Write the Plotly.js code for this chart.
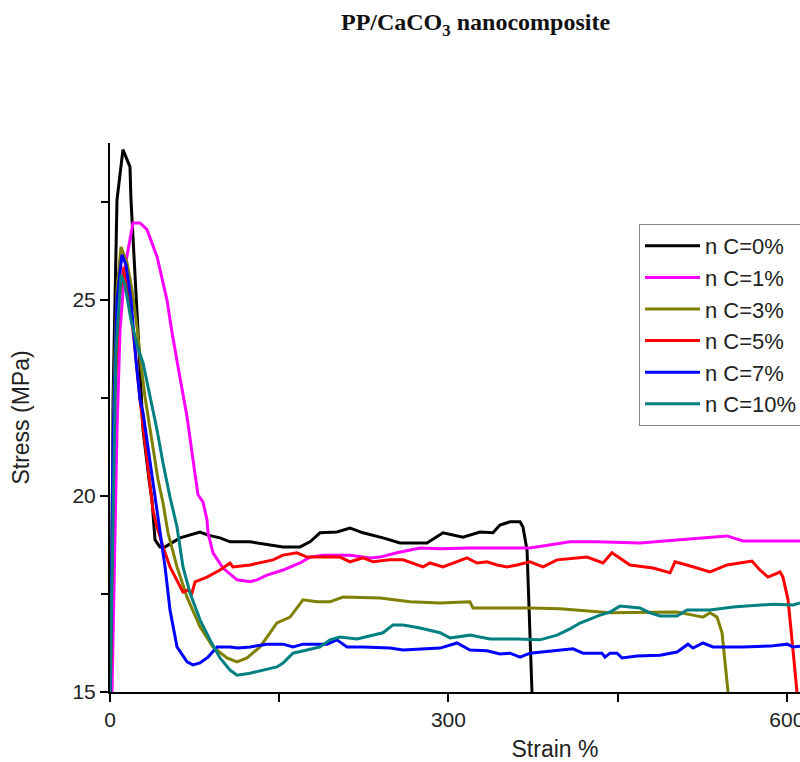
<!DOCTYPE html>
<html>
<head>
<meta charset="utf-8">
<script src="https://cdn.plot.ly/plotly-3.0.1.min.js"></script>
<style>
html, body { margin: 0; padding: 0; background: #fff; overflow: hidden; }
#wrap { width: 800px; height: 762px; overflow: hidden; position: relative; }
#chart { width: 1000px; height: 762px; }
</style>
</head>
<body>
<div id="wrap"><div id="chart"></div></div>
<script>
// Series names
const seriesNames = ["n C=0%", "n C=1%", "n C=3%", "n C=5%", "n C=7%", "n C=10%"];

// n C=0%
const strain0 = [1, 2.7, 6.2, 11.5, 17.7, 18.6, 24.8, 29.3, 34.6, 37.2, 39.9, 44.3, 48.8, 62.1, 79.8, 86.9, 97.5, 106.4, 124.1, 141.8, 153.4, 168.4, 177.3, 186.2, 201.2, 212.8, 224.3, 242.0, 257.1, 266.0, 281.0, 295.2, 312.9, 328.0, 339.5, 345.7, 354.6, 363.5, 366.1, 369.7, 372.3, 374.1];
const stress0 = [15, 22.45, 27.55, 28.83, 28.39, 27.55, 24.23, 21.68, 20.41, 19.90, 18.88, 18.70, 18.70, 18.93, 19.08, 19.0, 18.93, 18.83, 18.83, 18.75, 18.70, 18.70, 18.83, 19.06, 19.08, 19.18, 19.06, 18.93, 18.80, 18.80, 18.80, 19.06, 18.95, 19.08, 19.06, 19.26, 19.34, 19.34, 19.21, 18.62, 16.51, 15.0];

// n C=1%
const strain1 = [1.8, 6.2, 8.9, 13.3, 20.4, 26.6, 32.8, 41.7, 50.5, 55.0, 62.1, 68.3, 73.6, 78.0, 82.4, 86.0, 86.9, 91.3, 100.2, 112.6, 124.1, 130.3, 139.2, 153.4, 168.4, 177.3, 188.8, 212.8, 230.5, 239.4, 254.4, 274.8, 292.6, 319.1, 372.3, 390.1, 407.8, 431.7, 469.9, 505.3, 547.0, 561.2, 611.7];
const stress1 = [15.0, 21.68, 24.23, 25.84, 26.96, 26.96, 26.79, 26.10, 25.0, 24.16, 23.01, 22.02, 20.92, 20.03, 19.85, 19.39, 19.06, 18.55, 18.16, 17.86, 17.81, 17.86, 17.98, 18.11, 18.29, 18.44, 18.49, 18.49, 18.42, 18.44, 18.55, 18.67, 18.65, 18.67, 18.67, 18.75, 18.83, 18.83, 18.80, 18.88, 18.98, 18.85, 18.85];

// n C=3%
const strain3 = [0.5, 2.7, 6.2, 9.8, 15.1, 19.5, 23.9, 26.6, 31.0, 35.5, 42.6, 47.0, 51.4, 59.4, 68.3, 79.8, 91.3, 103.7, 112.6, 121.5, 133.0, 139.2, 148.0, 159.6, 171.1, 183.5, 195.0, 206.6, 239.4, 266.0, 292.6, 319.1, 321.8, 372.3, 398.9, 443.3, 502.7, 516.8, 525.7, 531.9, 538.1, 542.6, 545.2, 547.9];
const stress3 = [15, 21.94, 25.26, 26.35, 25.94, 25.26, 24.31, 23.55, 22.53, 21.68, 20.41, 19.82, 19.06, 18.19, 17.42, 16.66, 16.15, 15.87, 15.77, 15.87, 16.15, 16.40, 16.76, 16.91, 17.35, 17.30, 17.30, 17.42, 17.40, 17.30, 17.27, 17.30, 17.14, 17.14, 17.12, 17.02, 17.04, 16.96, 16.91, 17.02, 16.91, 16.51, 15.82, 15.0];

// n C=5%
const strain5 = [0.3, 3.5, 8.0, 12.4, 16.0, 21.3, 26.6, 32.8, 38.1, 41.7, 47.0, 53.2, 59.4, 64.7, 69.1, 72.7, 75.4, 86.0, 97.5, 106.4, 109.0, 124.1, 144.5, 153.4, 165.8, 174.6, 203.9, 212.8, 224.3, 233.2, 248.2, 259.8, 277.5, 283.7, 295.2, 307.6, 316.5, 325.4, 334.2, 343.1, 352.0, 360.8, 372.3, 383.9, 396.3, 422.9, 437.1, 445.0, 461.0, 481.4, 496.5, 500.9, 511.5, 531.9, 547.0, 569.1, 576.2, 583.3, 594.0, 596.6, 601.1, 605.5, 609.0];
const stress5 = [15, 21.94, 25.0, 25.84, 25.26, 23.98, 22.45, 20.92, 19.64, 19.21, 18.70, 18.19, 17.86, 17.55, 17.60, 17.53, 17.81, 17.93, 18.11, 18.29, 18.19, 18.24, 18.37, 18.49, 18.55, 18.44, 18.44, 18.32, 18.42, 18.32, 18.37, 18.37, 18.19, 18.29, 18.19, 18.32, 18.42, 18.29, 18.32, 18.24, 18.19, 18.24, 18.32, 18.19, 18.37, 18.44, 18.29, 18.55, 18.24, 18.16, 18.04, 18.32, 18.24, 18.06, 18.24, 18.34, 18.11, 17.93, 18.06, 17.93, 17.35, 16.07, 15.0];

// n C=7%
const strain7 = [0.3, 2.7, 6.2, 10.6, 14.2, 18.6, 23.0, 26.6, 29.3, 33.7, 38.1, 42.6, 48.8, 53.2, 59.4, 68.3, 73.6, 79.8, 86.9, 94.9, 106.4, 113.5, 124.1, 139.2, 153.4, 162.2, 171.1, 192.4, 201.2, 210.1, 224.3, 248.2, 259.8, 292.6, 307.6, 319.1, 334.2, 345.7, 354.6, 363.5, 372.3, 410.5, 419.3, 436.2, 438.8, 443.3, 449.5, 453.9, 467.2, 487.6, 502.7, 512.4, 516.8, 525.7, 534.6, 561.2, 585.1, 600.2, 605.5, 611.7];
const stress7 = [15, 21.43, 25.0, 26.15, 25.89, 25.0, 23.47, 22.45, 22.12, 21.25, 20.41, 19.39, 18.19, 17.09, 16.15, 15.77, 15.69, 15.74, 15.89, 16.15, 16.15, 16.12, 16.15, 16.22, 16.22, 16.15, 16.22, 16.22, 16.33, 16.15, 16.15, 16.12, 16.07, 16.12, 16.25, 16.07, 16.05, 15.97, 15.99, 15.89, 15.99, 16.10, 15.99, 15.99, 15.89, 15.99, 15.99, 15.87, 15.92, 15.94, 16.02, 16.22, 16.12, 16.25, 16.15, 16.15, 16.17, 16.22, 16.15, 16.17];

// n C=10%
const strain10 = [0, 1.8, 5.3, 9.8, 13.3, 18.6, 23.9, 29.3, 35.5, 41.7, 47.0, 53.2, 59.4, 64.7, 70.9, 79.8, 88.7, 97.5, 106.4, 112.6, 124.1, 135.6, 148.0, 153.4, 162.2, 174.6, 186.2, 195.0, 203.9, 219.0, 233.2, 242.0, 250.9, 259.8, 274.8, 292.6, 301.4, 319.1, 336.9, 360.8, 381.2, 396.3, 407.8, 416.7, 434.4, 443.3, 452.1, 469.9, 478.7, 487.6, 502.7, 511.5, 531.9, 552.3, 587.8, 605.5, 611.7];
const stress10 = [15, 18.37, 23.72, 25.64, 25.38, 24.49, 23.85, 23.39, 22.53, 21.68, 20.84, 19.97, 19.21, 18.19, 17.53, 16.84, 16.33, 15.87, 15.56, 15.43, 15.48, 15.56, 15.64, 15.74, 15.99, 16.07, 16.15, 16.33, 16.40, 16.35, 16.45, 16.51, 16.71, 16.71, 16.63, 16.51, 16.38, 16.45, 16.35, 16.35, 16.33, 16.45, 16.61, 16.76, 16.96, 17.04, 17.19, 17.14, 17.02, 16.94, 16.94, 17.09, 17.09, 17.17, 17.24, 17.22, 17.27];

const colors = ["#000000", "#ff00ff", "#808000", "#ff0000", "#0000ff", "#008080"];

// Axis ticks
const xTickVals = [0, 300, 600];
const xTickText = ["0", "300", "600"];
const yTickVals = [15, 20, 25];
const yTickText = ["15", "20", "25"];

const xs = [strain0, strain1, strain3, strain5, strain7, strain10];
const ys = [stress0, stress1, stress3, stress5, stress7, stress10];

const traces = seriesNames.map((name, i) => ({
  type: "scatter",
  mode: "lines",
  name: name,
  x: xs[i],
  y: ys[i],
  line: { color: colors[i], width: 3 },
  legendgroup: "g" + i
}));

const layout = {
  width: 1000,
  height: 762,
  margin: { l: 110, r: 0, t: 143, b: 70 },
  paper_bgcolor: "#ffffff",
  plot_bgcolor: "#ffffff",
  showlegend: true,
  title: {
    text: "<b>PP/CaCO<sub>3</sub> nanocomposite</b>",
    font: { family: "Liberation Serif, Times New Roman, serif", size: 24, color: "#111111" },
    x: 0.4755, xanchor: "center", xref: "container",
    y: 0.971, yanchor: "middle", yref: "container"
  },
  xaxis: {
    range: [0, 789],
    showgrid: false,
    zeroline: false,
    showline: true,
    linecolor: "#000000",
    linewidth: 2,
    ticks: "outside",
    ticklen: 8,
    tickwidth: 2,
    tickcolor: "#000000",
    tickvals: xTickVals,
    ticktext: xTickText,
    tickfont: { family: "Liberation Sans, Arial, sans-serif", size: 21, color: "#222222" },
    minor: { tickvals: [150, 450, 750], ticks: "outside", ticklen: 8, tickwidth: 2, tickcolor: "#000000" },
    title: {
      text: "Strain %",
      font: { family: "Liberation Sans, Arial, sans-serif", size: 23, color: "#222222" },
      standoff: 12
    }
  },
  yaxis: {
    range: [15, 29],
    showgrid: false,
    zeroline: false,
    showline: true,
    linecolor: "#000000",
    linewidth: 2,
    ticks: "outside",
    ticklen: 8,
    tickwidth: 2,
    tickcolor: "#000000",
    tickvals: yTickVals,
    ticktext: yTickText,
    tickfont: { family: "Liberation Sans, Arial, sans-serif", size: 21, color: "#222222" },
    minor: { tickvals: [17.5, 22.5, 27.5], ticks: "outside", ticklen: 7, tickwidth: 2, tickcolor: "#000000" },
    title: {
      text: "Stress (MPa)",
      font: { family: "Liberation Sans, Arial, sans-serif", size: 23, color: "#222222" },
      standoff: 36
    }
  },
  legend: {
    x: 0.5944, xanchor: "left",
    y: 0.8525, yanchor: "top",
    bgcolor: "#ffffff",
    bordercolor: "#888888",
    borderwidth: 1,
    font: { family: "Liberation Sans, Arial, sans-serif", size: 22, color: "#222222" },
    itemwidth: 55,
    tracegroupgap: 2,
    traceorder: "normal"
  }
};

Plotly.newPlot("chart", traces, layout, { displayModeBar: false, staticPlot: true });
</script>
</body>
</html>
